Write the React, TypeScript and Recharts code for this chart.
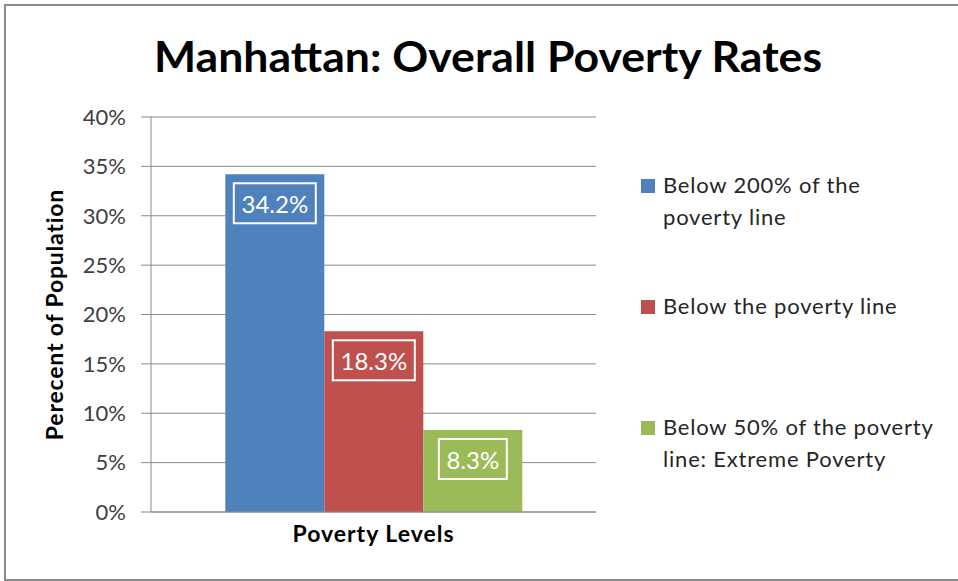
import React from "react";
import {
  BarChart,
  Bar,
  XAxis,
  YAxis,
  CartesianGrid,
  Legend,
  LabelList,
} from "recharts";

const categories = ["Poverty Levels"];
const seriesKeys = ["below200", "belowLine", "below50"];
const seriesNames = [
  "Below 200% of the\npoverty line",
  "Below the poverty line",
  "Below 50% of the poverty\nline: Extreme Poverty",
];
const seriesValues = [34.2, 18.3, 8.3];
const seriesColors = ["#4F81BD", "#C0504D", "#9BBB59"];
const yTicks = [0, 5, 10, 15, 20, 25, 30, 35, 40];

const data = categories.map((level) => {
  const row: Record<string, string | number> = { level };
  seriesKeys.forEach((k, i) => {
    row[k] = seriesValues[i];
  });
  return row;
});

const FONT = "Lato, 'Open Sans', sans-serif";
const GRID = "#8a8a8a";

// white framed value label, a little below the top of each bar
const BoxLabel = (props: any) => {
  const { x, y, width, value } = props;
  const text = `${Number(value).toFixed(1)}%`;
  const boxW = text.length * 14 + 12;
  const boxH = 40;
  const cx = x + width / 2;
  const top = y + 9;
  return (
    <g>
      <rect
        x={cx - boxW / 2}
        y={top}
        width={boxW}
        height={boxH}
        fill="none"
        stroke="#ffffff"
        strokeWidth={2}
      />
      <text
        x={cx}
        y={top + 30}
        textAnchor="middle"
        fill="#ffffff"
        fontSize={24}
        fontFamily={FONT}
      >
        {text}
      </text>
    </g>
  );
};

const LegendBox = (props: any) => {
  const { payload } = props;
  return (
    <div
      style={{
        fontFamily: FONT,
        fontSize: 22,
        letterSpacing: 0.8,
        color: "#262626",
      }}
    >
      {(payload || []).map((entry: any, i: number) => (
        <div
          key={i}
          style={{ position: "relative", height: 121, paddingLeft: 22 }}
        >
          <span
            style={{
              position: "absolute",
              left: 0,
              top: 10,
              width: 14,
              height: 14,
              background: entry.color,
            }}
          />
          <div style={{ lineHeight: "31.5px", whiteSpace: "pre-line" }}>
            {entry.value}
          </div>
        </div>
      ))}
    </div>
  );
};

export default function App() {
  return (
    <div
      style={{
        position: "absolute",
        left: 0,
        top: 0,
        width: 958,
        height: 581,
        overflow: "hidden",
        background: "#fff",
      }}
    >
      <div
        style={{
          position: "absolute",
          left: 4,
          top: 4,
          width: 970,
          height: 577,
          border: `2px solid ${GRID}`,
          boxSizing: "border-box",
        }}
      />
      <svg
        width={958}
        height={100}
        style={{ position: "absolute", left: 0, top: 0 }}
      >
        <text
          x={488}
          y={72}
          textAnchor="middle"
          fontFamily={FONT}
          fontWeight="bold"
          fontSize={42}
          fill="#000"
          textLength={668}
          lengthAdjust="spacingAndGlyphs"
        >
          Manhattan: Overall Poverty Rates
        </text>
      </svg>
      <div style={{ position: "absolute", left: 0, top: 0 }}>
        <BarChart
          width={958}
          height={581}
          data={data}
          margin={{ top: 117, right: 62, bottom: 0, left: 0 }}
          barCategoryGap="16.7%"
          barGap={0}
          style={{ fontFamily: FONT }}
        >
          <CartesianGrid stroke={GRID} vertical={false} />
          <XAxis
            dataKey="level"
            height={69}
            tick={false}
            tickLine={false}
            axisLine={{ stroke: GRID }}
            label={{
              content: (p: any) => {
                const vb = p.viewBox || {};
                return (
                  <text
                    x={vb.x + vb.width / 2}
                    y={vb.y + 29.5}
                    textAnchor="middle"
                    fontFamily={FONT}
                    fontWeight="bold"
                    fontSize={23}
                    letterSpacing={1}
                    fill="#000"
                  >
                    Poverty Levels
                  </text>
                );
              },
            }}
          />
          <YAxis
            width={151}
            domain={[0, 40]}
            ticks={yTicks}
            interval={0}
            tickFormatter={(v: number) => `${v}%`}
            tick={{ fill: "#404040", fontSize: 22, fontFamily: FONT }}
            tickSize={10}
            tickMargin={15}
            tickLine={{ stroke: GRID }}
            axisLine={{ stroke: GRID }}
            label={{
              content: (p: any) => {
                const vb = p.viewBox || {};
                const cy = vb.y + vb.height / 2;
                return (
                  <text
                    transform={`translate(63, ${cy}) rotate(-90)`}
                    textAnchor="middle"
                    fontFamily={FONT}
                    fontWeight="bold"
                    fontSize={23}
                    letterSpacing={0.8}
                    fill="#000"
                  >
                    Perecent of Population
                  </text>
                );
              },
            }}
          />
          <Legend
            layout="vertical"
            align="right"
            verticalAlign="top"
            content={LegendBox}
            itemSorter={(item: any) => seriesKeys.indexOf(item.dataKey)}
            wrapperStyle={{ left: 641, top: 169, width: 300, height: 380 }}
          />
          {seriesKeys.map((k, i) => (
            <Bar
              key={k}
              dataKey={k}
              name={seriesNames[i]}
              fill={seriesColors[i]}
              isAnimationActive={false}
            >
              <LabelList dataKey={k} content={BoxLabel} />
            </Bar>
          ))}
        </BarChart>
      </div>
    </div>
  );
}
